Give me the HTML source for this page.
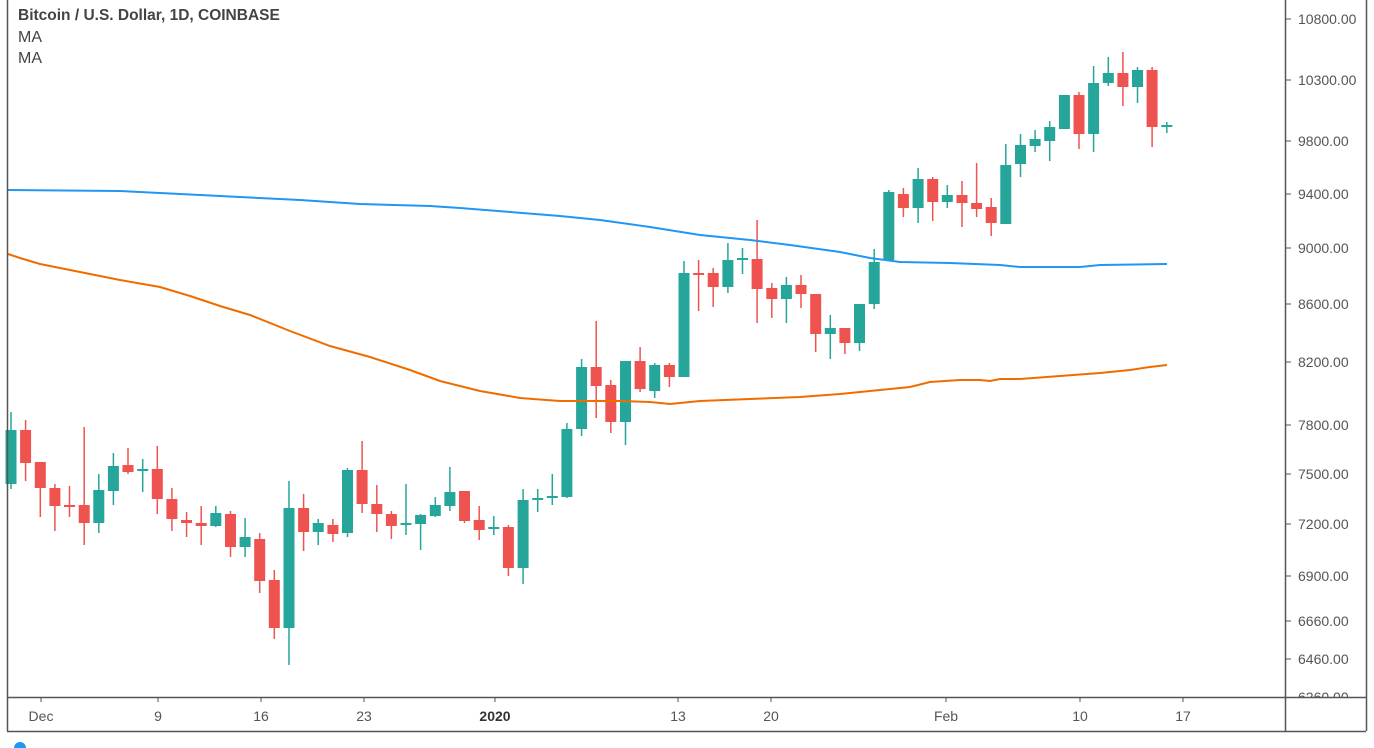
<!DOCTYPE html>
<html><head><meta charset="utf-8"><style>
html,body{margin:0;padding:0;background:#fff;}
svg{display:block;}
text{font-family:"Liberation Sans",sans-serif;}
</style></head><body>
<svg id="s" width="1374" height="748" viewBox="0 0 1374 748" xmlns="http://www.w3.org/2000/svg">
<rect width="1374" height="748" fill="#fff"/>
<g id="c"></g>
<polyline fill="none" stroke="#2196f3" stroke-width="2" points="8,190 120,191 160,193 220,196 300,200 360,204 430,206 460,208 510,212 560,216 600,220 650,227 700,235 750,240 790,245 840,252 870,258 900,262 950,263 1000,265 1020,267 1080,267 1100,265 1167,264"/>
<polyline fill="none" stroke="#ef6c00" stroke-width="2" points="8,254 20,258 40,264 80,272 120,280 160,287 190,296 220,306 250,315 290,331 330,346 370,357 410,370 440,381 480,391 520,398 560,401 620,401 650,402 670,404 700,401 750,399 800,397 840,394 870,391 910,387 930,382 960,380 980,380 990,381 1000,379 1020,379 1060,376 1100,373 1130,370 1150,367 1167,365"/>
<line x1="7.5" y1="0" x2="7.5" y2="731" stroke="#555" stroke-width="1.5"/>
<line x1="1285.5" y1="0" x2="1285.5" y2="731" stroke="#555" stroke-width="1.5"/>
<line x1="1366.5" y1="0" x2="1366.5" y2="731" stroke="#555" stroke-width="1.5"/>
<line x1="7" y1="697.5" x2="1366" y2="697.5" stroke="#555" stroke-width="1.5"/>
<line x1="7" y1="731.5" x2="1366" y2="731.5" stroke="#555" stroke-width="1.5"/>
<g font-size="14" fill="#555">
<text x="1298" y="24">10800.00</text><line x1="1285" y1="19" x2="1291" y2="19" stroke="#555"/>
<text x="1298" y="85">10300.00</text><line x1="1285" y1="80" x2="1291" y2="80" stroke="#555"/>
<text x="1298" y="146">9800.00</text><line x1="1285" y1="141" x2="1291" y2="141" stroke="#555"/>
<text x="1298" y="199">9400.00</text><line x1="1285" y1="194" x2="1291" y2="194" stroke="#555"/>
<text x="1298" y="253">9000.00</text><line x1="1285" y1="248" x2="1291" y2="248" stroke="#555"/>
<text x="1298" y="309">8600.00</text><line x1="1285" y1="304" x2="1291" y2="304" stroke="#555"/>
<text x="1298" y="367">8200.00</text><line x1="1285" y1="362" x2="1291" y2="362" stroke="#555"/>
<text x="1298" y="430">7800.00</text><line x1="1285" y1="425" x2="1291" y2="425" stroke="#555"/>
<text x="1298" y="479">7500.00</text><line x1="1285" y1="474" x2="1291" y2="474" stroke="#555"/>
<text x="1298" y="529">7200.00</text><line x1="1285" y1="524" x2="1291" y2="524" stroke="#555"/>
<text x="1298" y="581">6900.00</text><line x1="1285" y1="576" x2="1291" y2="576" stroke="#555"/>
<text x="1298" y="626">6660.00</text><line x1="1285" y1="621" x2="1291" y2="621" stroke="#555"/>
<text x="1298" y="664">6460.00</text><line x1="1285" y1="659" x2="1291" y2="659" stroke="#555"/>
</g>
<clipPath id="cp"><rect x="1290" y="0" width="80" height="697"/></clipPath>
<text x="1298" y="702" font-size="14" fill="#555" clip-path="url(#cp)">6260.00</text>
<g font-size="14" fill="#555" text-anchor="middle">
<text x="41" y="721">Dec</text><text x="158" y="721">9</text><text x="261" y="721">16</text><text x="364" y="721">23</text>
<text x="495" y="721" font-weight="bold" fill="#333">2020</text><text x="678" y="721">13</text><text x="771" y="721">20</text>
<text x="946" y="721">Feb</text><text x="1080" y="721">10</text><text x="1183" y="721">17</text>
</g>
<g stroke="#555"><line x1="41" y1="697" x2="41" y2="702"/><line x1="158" y1="697" x2="158" y2="702"/><line x1="261" y1="697" x2="261" y2="702"/><line x1="364" y1="697" x2="364" y2="702"/><line x1="495" y1="697" x2="495" y2="702"/><line x1="678" y1="697" x2="678" y2="702"/><line x1="771" y1="697" x2="771" y2="702"/><line x1="946" y1="697" x2="946" y2="702"/><line x1="1080" y1="697" x2="1080" y2="702"/><line x1="1183" y1="697" x2="1183" y2="702"/></g>
<text x="18" y="20" font-size="15.5" font-weight="bold" fill="#444">Bitcoin / U.S. Dollar, 1D, COINBASE</text>
<text x="18" y="42" font-size="16" fill="#444">MA</text>
<text x="18" y="63" font-size="16" fill="#444">MA</text>
<circle cx="20" cy="748" r="6" fill="#2196f3"/>
</svg>
<script>
var d=[
['g',484,430,412,489],['r',430,463,420,481],['r',462,488,462,517],['r',488,506,484,531],['r',505,506,486,517],
['r',505,523,427,545],['g',523,490,474,533],['g',491,466,453,505],['r',465,472,448,474],['g',471,469,459,492],
['r',469,499,446,514],['r',499,519,488,531],['r',520,523,512,537],['r',523,526,506,545],['g',526,513,506,527],
['r',514,547,511,557],['g',547,537,518,557],['r',539,581,533,593],['r',580,628,570,639],['g',628,508,481,665],
['r',508,532,494,551],['g',532,523,519,545],['r',525,534,519,542],['g',533,470,468,537],['r',470,504,441,513],
['r',504,514,485,532],['r',514,526,511,539],['g',525,523,484,535],['g',524,515,514,550],['g',516,505,497,517],
['g',506,492,467,511],['r',491,521,491,523],['r',520,530,506,540],['g',529,527,516,535],['r',527,568,525,576],
['g',568,500,489,584],['g',500,498,489,512],['g',498,496,474,505],['g',497,429,423,498],['g',429,367,359,436],
['r',367,386,321,418],['r',385,422,380,433],['g',422,361,361,445],['r',361,389,347,392],['g',391,365,363,398],
['r',365,377,363,387],['g',377,273,261,377],['r',273,275,260,311],['r',273,287,268,307],['g',287,260,243,293],
['g',260,258,248,274],['r',259,289,220,323],['r',288,299,283,318],['g',299,285,277,323],['r',285,294,275,308],
['r',294,334,294,352],['g',334,328,315,359],['r',328,343,328,354],['g',343,304,304,351],['g',304,262,249,309],
['g',260,192,190,260],['r',194,208,188,217],['g',208,179,168,223],['r',179,202,177,221],['g',202,195,185,208],
['r',195,203,181,227],['r',203,209,163,217],['r',207,223,198,236],['g',224,165,144,224],['g',164,145,134,177],
['g',146,139,130,152],['g',141,127,121,161],['g',129,95,95,129],['r',95,134,92,149],['g',134,83,66,152],
['g',83,73,57,86],['r',73,87,52,106],['g',87,70,67,103],['r',70,127,67,147],['g',127,125,122,133]];
var s='';
d.forEach(function(c,i){var x=11+14.63*i,col=c[0]=='g'?'#26a69a':'#ef5350';
var t=Math.min(c[1],c[2]),b=Math.max(c[1],c[2]);if(b-t<2){b=t+2;}
s+='<line x1="'+x.toFixed(1)+'" y1="'+c[3]+'" x2="'+x.toFixed(1)+'" y2="'+c[4]+'" stroke="'+col+'" stroke-width="1.5"/>';
s+='<rect x="'+(x-5.5).toFixed(1)+'" y="'+t+'" width="11" height="'+(b-t)+'" fill="'+col+'"/>';});
document.getElementById('c').innerHTML=s;
</script>
</body></html>
